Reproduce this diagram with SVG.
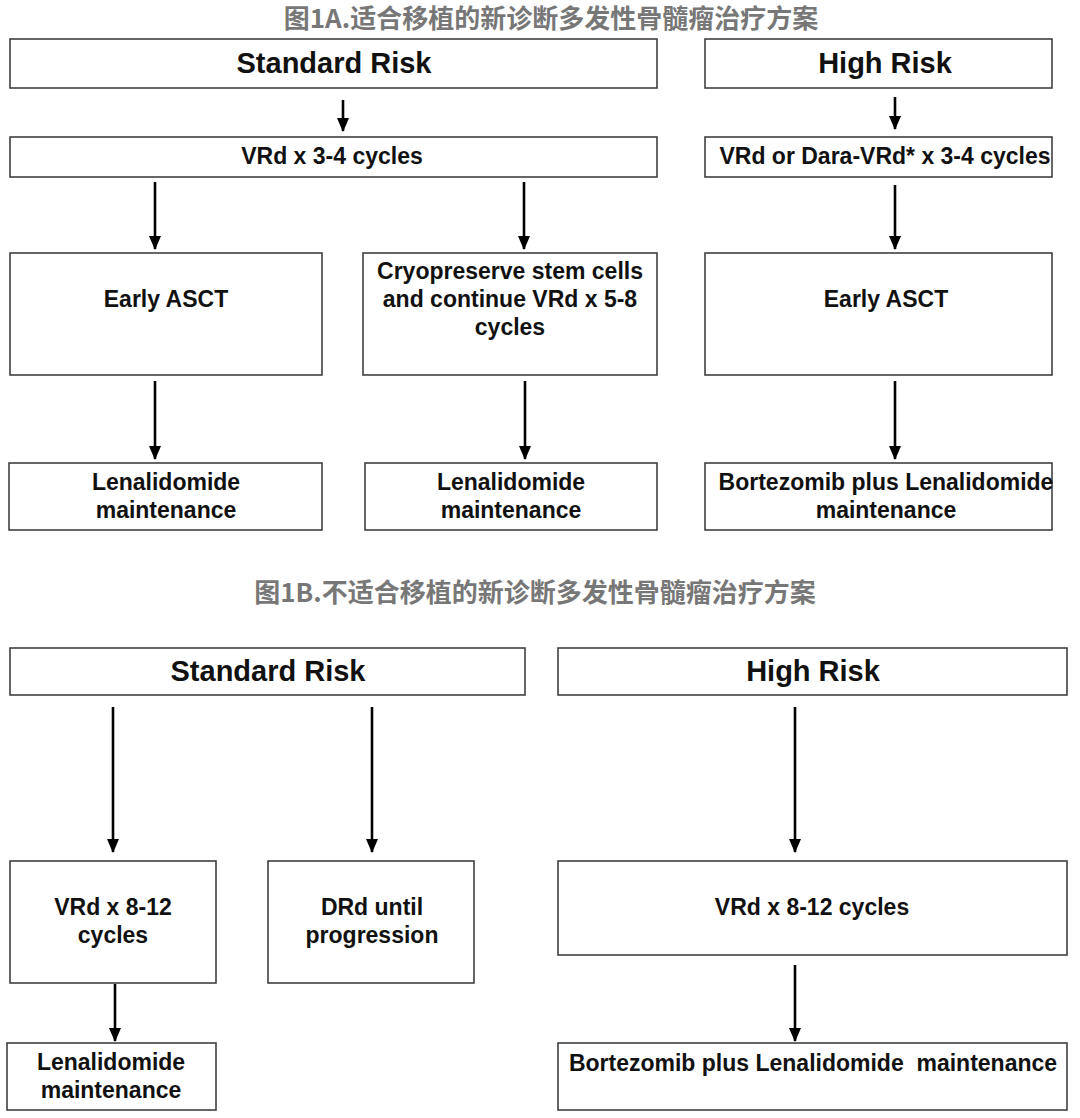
<svg xmlns="http://www.w3.org/2000/svg" width="1080" height="1118" viewBox="0 0 1080 1118">
<style>
.box{fill:#fff;stroke:#404040;stroke-width:1.6}
.t{font-family:"Liberation Sans",Arial,sans-serif;font-weight:bold;fill:#111;text-anchor:middle;font-size:23px}
.h{font-size:29px}
.title{font-family:"Noto Sans CJK SC","Liberation Sans",sans-serif;font-weight:bold;fill:#777;text-anchor:middle;font-size:26px}
.c{stroke:#000;stroke-width:2.6;fill:none;marker-end:url(#ah)}
</style>
<defs>
<marker id="ah" markerUnits="userSpaceOnUse" markerWidth="14" markerHeight="12" viewBox="0 0 14 12" refX="13" refY="6" orient="auto">
<path d="M0,0 L14,6 L0,12 Z" fill="#000"/>
</marker>
</defs>
<rect width="1080" height="1118" fill="#fff"/>
<text class="title" x="551" y="28">图1A.适合移植的新诊断多发性骨髓瘤治疗方案</text>
<text class="title" x="535" y="602">图1B.不适合移植的新诊断多发性骨髓瘤治疗方案</text>

<g id="connectors">
<line class="c" x1="343" y1="100" x2="343" y2="131"/>
<line class="c" x1="895" y1="97" x2="895" y2="129"/>
<line class="c" x1="155" y1="182" x2="155" y2="249"/>
<line class="c" x1="524" y1="182" x2="524" y2="249"/>
<line class="c" x1="895" y1="185" x2="895" y2="249"/>
<line class="c" x1="155" y1="381" x2="155" y2="459"/>
<line class="c" x1="525" y1="381" x2="525" y2="459"/>
<line class="c" x1="895" y1="381" x2="895" y2="459"/>
<line class="c" x1="113" y1="707" x2="113" y2="852"/>
<line class="c" x1="372" y1="707" x2="372" y2="852"/>
<line class="c" x1="795" y1="707" x2="795" y2="852"/>
<line class="c" x1="115" y1="984" x2="115" y2="1041"/>
<line class="c" x1="795" y1="965" x2="795" y2="1041"/>
</g>

<g id="a-sr"><rect class="box" x="10" y="39" width="647" height="49"/><text class="t h" x="334" y="73">Standard Risk</text></g>
<g id="a-hr"><rect class="box" x="705" y="39" width="347" height="49"/><text class="t h" x="885" y="73">High Risk</text></g>
<g id="a-vrd"><rect class="box" x="10" y="137" width="647" height="40"/><text class="t" x="332" y="164">VRd x 3-4 cycles</text></g>
<g id="a-dvrd"><rect class="box" x="705" y="137" width="347" height="40"/><text class="t" x="885" y="164">VRd or Dara-VRd* x 3-4 cycles</text></g>
<g id="a-asct1"><rect class="box" x="10" y="253" width="312" height="122"/><text class="t" x="166" y="307">Early ASCT</text></g>
<g id="a-cryo"><rect class="box" x="363" y="253" width="294" height="122"/><text class="t" x="510" y="279">Cryopreserve stem cells</text><text class="t" x="510" y="307">and continue VRd x 5-8</text><text class="t" x="510" y="335">cycles</text></g>
<g id="a-asct2"><rect class="box" x="705" y="253" width="347" height="122"/><text class="t" x="886" y="307">Early ASCT</text></g>
<g id="a-len1"><rect class="box" x="9" y="463" width="313" height="67"/><text class="t" x="166" y="490">Lenalidomide</text><text class="t" x="166" y="518">maintenance</text></g>
<g id="a-len2"><rect class="box" x="365" y="463" width="292" height="67"/><text class="t" x="511" y="490">Lenalidomide</text><text class="t" x="511" y="518">maintenance</text></g>
<g id="a-bor"><rect class="box" x="705" y="463" width="347" height="67"/><text class="t" x="886" y="490">Bortezomib plus Lenalidomide</text><text class="t" x="886" y="518">maintenance</text></g>

<g id="b-sr"><rect class="box" x="10" y="648" width="515" height="47"/><text class="t h" x="268" y="681">Standard Risk</text></g>
<g id="b-hr"><rect class="box" x="558" y="648" width="509" height="47"/><text class="t h" x="813" y="681">High Risk</text></g>
<g id="b-vrd1"><rect class="box" x="10" y="861" width="206" height="122"/><text class="t" x="113" y="915">VRd x 8-12</text><text class="t" x="113" y="943">cycles</text></g>
<g id="b-drd"><rect class="box" x="268" y="861" width="206" height="122"/><text class="t" x="372" y="915">DRd until</text><text class="t" x="372" y="943">progression</text></g>
<g id="b-vrd2"><rect class="box" x="558" y="861" width="509" height="94"/><text class="t" x="812" y="915">VRd x 8-12 cycles</text></g>
<g id="b-len"><rect class="box" x="7" y="1043" width="209" height="67"/><text class="t" x="111" y="1070">Lenalidomide</text><text class="t" x="111" y="1098">maintenance</text></g>
<g id="b-bor"><rect class="box" x="558" y="1043" width="509" height="67"/><text class="t" x="813" y="1071" xml:space="preserve">Bortezomib plus Lenalidomide  maintenance</text></g>
</svg>
